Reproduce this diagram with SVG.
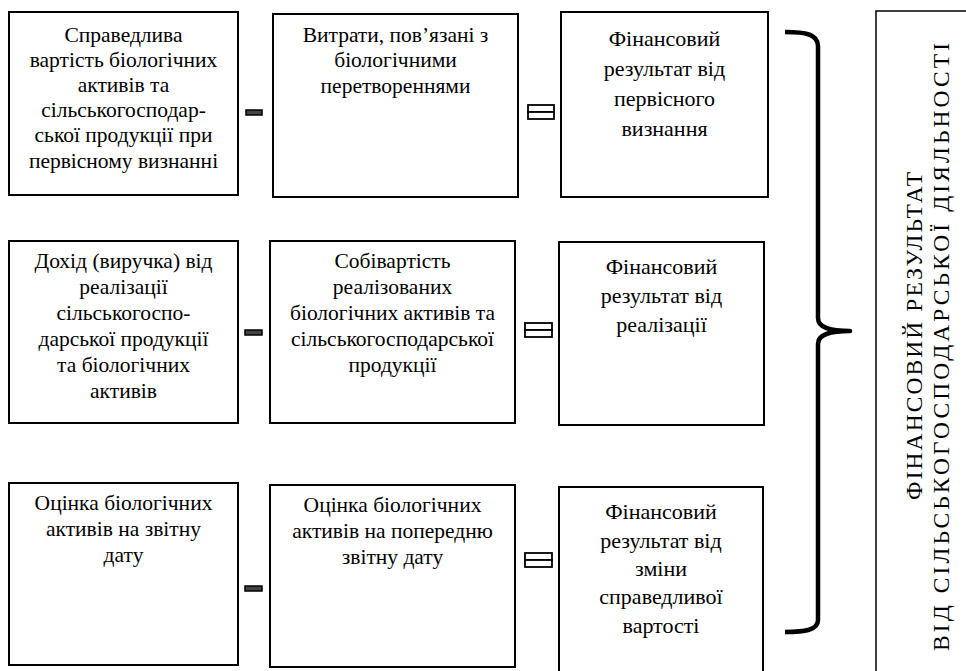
<svg xmlns="http://www.w3.org/2000/svg" width="966" height="671" viewBox="0 0 966 671">
<style>
.box{fill:#fff;stroke:#000;stroke-width:2}
text{font-family:'Liberation Serif','Times New Roman',serif;fill:#000;text-anchor:middle}
.t{font-size:21.5px}
.tc{font-size:22px}
.tr{font-size:23.5px}
.minus{fill:#444;stroke:#000;stroke-width:1.5}
.eq{fill:#fff;stroke:#000;stroke-width:1.8}
</style>
<rect width="966" height="671" fill="#fff"/>

<g id="a1"><rect class="box" x="9" y="12" width="229" height="183"/>
<text class="t"><tspan x="123.5" y="42">Справедлива</tspan><tspan x="123.5" y="67">вартість біологічних</tspan><tspan x="123.5" y="92">активів та</tspan><tspan x="123.5" y="117">сільськогосподар-</tspan><tspan x="123.5" y="142">ської продукції при</tspan><tspan x="123.5" y="168">первісному визнанні</tspan></text></g>
<g id="b1"><rect class="box" x="273" y="14" width="245" height="183"/>
<text class="t"><tspan x="395.5" y="42">Витрати, пов’язані з</tspan><tspan x="395.5" y="67">біологічними</tspan><tspan x="395.5" y="93">перетвореннями</tspan></text></g>
<g id="c1"><rect class="box" x="561" y="12" width="207" height="185"/>
<text class="tc"><tspan x="664.5" y="46">Фінансовий</tspan><tspan x="664.5" y="76">результат від</tspan><tspan x="664.5" y="106">первісного</tspan><tspan x="664.5" y="136">визнання</tspan></text></g>

<g id="a2"><rect class="box" x="9" y="241" width="229" height="182"/>
<text class="t"><tspan x="123.5" y="268">Дохід (виручка) від</tspan><tspan x="123.5" y="294">реалізації</tspan><tspan x="123.5" y="320">сільськогоспо-</tspan><tspan x="123.5" y="346">дарської продукції</tspan><tspan x="123.5" y="372">та біологічних</tspan><tspan x="123.5" y="398">активів</tspan></text></g>
<g id="b2"><rect class="box" x="270" y="241" width="245" height="182"/>
<text class="t"><tspan x="392.5" y="268">Собівартість</tspan><tspan x="392.5" y="294">реалізованих</tspan><tspan x="392.5" y="320">біологічних активів та</tspan><tspan x="392.5" y="346">сільськогосподарської</tspan><tspan x="392.5" y="372">продукції</tspan></text></g>
<g id="c2"><rect class="box" x="559" y="242" width="205" height="183"/>
<text class="tc"><tspan x="661.5" y="274">Фінансовий</tspan><tspan x="661.5" y="303">результат від</tspan><tspan x="661.5" y="332">реалізації</tspan></text></g>

<g id="a3"><rect class="box" x="9" y="483" width="229" height="182"/>
<text class="t"><tspan x="123.5" y="510">Оцінка біологічних</tspan><tspan x="123.5" y="536">активів на звітну</tspan><tspan x="123.5" y="562">дату</tspan></text></g>
<g id="b3"><rect class="box" x="270" y="485" width="245" height="182"/>
<text class="t"><tspan x="392.5" y="512">Оцінка біологічних</tspan><tspan x="392.5" y="538">активів на попередню</tspan><tspan x="392.5" y="564">звітну дату</tspan></text></g>
<g id="c3"><rect class="box" x="559" y="487" width="204" height="190"/>
<text class="tc"><tspan x="661" y="519">Фінансовий</tspan><tspan x="661" y="548">результат від</tspan><tspan x="661" y="576">зміни</tspan><tspan x="661" y="604">справедливої</tspan><tspan x="661" y="633">вартості</tspan></text></g>

<g id="total"><rect x="876" y="11" width="100" height="680" fill="#fff" stroke="#000" stroke-width="1.5"/>
<text class="tr" transform="translate(922,336) rotate(-90)" textLength="328" lengthAdjust="spacing">ФІНАНСОВИЙ РЕЗУЛЬТАТ</text>
<text class="tr" transform="translate(949,347) rotate(-90)" textLength="608" lengthAdjust="spacing">ВІД СІЛЬСЬКОГОСПОДАРСЬКОЇ ДІЯЛЬНОСТІ</text></g>

<g id="operators">
<rect class="minus" x="246" y="110" width="16" height="5"/>
<rect class="minus" x="245" y="330" width="17" height="5"/>
<rect class="minus" x="245" y="586" width="17" height="5"/>
<rect class="eq" x="528" y="105" width="26" height="7"/><rect class="eq" x="528" y="112" width="26" height="7"/>
<rect class="eq" x="525" y="323" width="27" height="7"/><rect class="eq" x="525" y="330" width="27" height="7"/>
<rect class="eq" x="525" y="553" width="27" height="7"/><rect class="eq" x="525" y="560" width="27" height="7"/>
</g>

<g id="connectors">
<path d="M785,32 C805,32 818,34 818,46 L818,318 C818,328 830,331 850,331 C830,331 818,334 818,344 L818,620 C818,630 805,632 785,632" fill="none" stroke="#000" stroke-width="4.5" stroke-linejoin="round"/>
</g>
</svg>
